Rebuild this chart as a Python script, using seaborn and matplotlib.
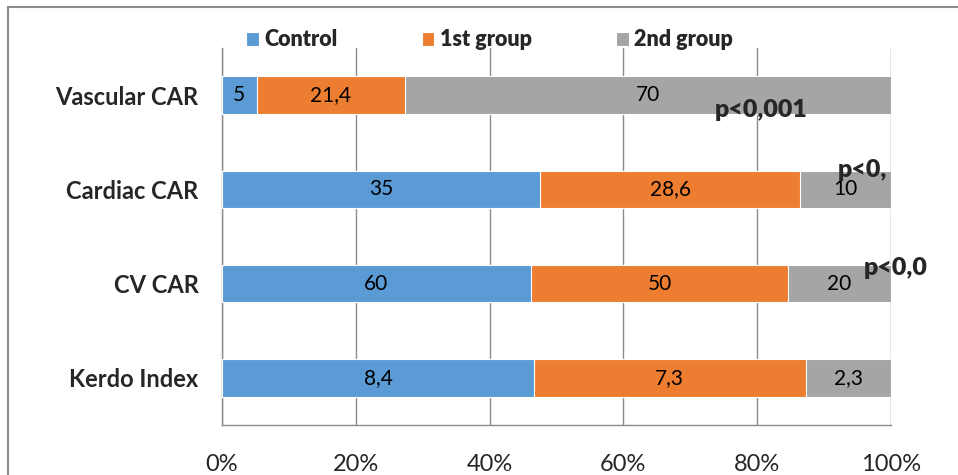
import numpy as np
import pandas as pd
import seaborn as sns
import matplotlib.pyplot as plt
from matplotlib.patches import Rectangle

categories = ['Vascular CAR', 'Cardiac CAR', 'CV CAR', 'Kerdo Index']
groups = ['Control', '1st group', '2nd group']
control = [5, 35, 60, 8.4]
group1 = [21.4, 28.6, 50, 7.3]
group2 = [70, 10, 20, 2.3]
p_labels = ['p<0,001', 'p<0,', 'p<0,0']
colors = ['#5B9BD5', '#ED7D31', '#A5A5A5']

sns.set_style('white')
plt.rcParams['font.family'] = ['Lato', 'DejaVu Sans']

vals = np.array([control, group1, group2])
pct = vals / vals.sum(axis=0) * 100
cum = np.cumsum(pct, axis=0)

fig = plt.figure(figsize=(9.58, 4.75), dpi=100)
ax = fig.add_axes([222 / 958, 1 - 425 / 475, (891 - 222) / 958, (425 - 48) / 475])

# outer frame
fig.patches.append(Rectangle((8 / 958, -0.1), 2, 1.1 - 7 / 475, transform=fig.transFigure,
                             fill=False, edgecolor='#8c8c8c', linewidth=1.5, zorder=0))

# stacked bars: draw cumulative totals from the back
for i in [2, 1, 0]:
    df = pd.DataFrame({'cat': categories, 'val': cum[i]})
    sns.barplot(data=df, y='cat', x='val', color=colors[i], orient='h', width=0.4, saturation=1,
                edgecolor='white', linewidth=0.8, ax=ax, label=groups[i], zorder=3)
if ax.get_legend() is not None:
    ax.get_legend().remove()

for j, cat in enumerate(categories):
    starts = np.concatenate([[0], cum[:-1, j]])
    for i in range(3):
        txt = ('%g' % vals[i, j]).replace('.', ',')
        ax.text(starts[i] + pct[i, j] / 2, j, txt, ha='center', va='center',
                fontsize=15, color='black', zorder=5)

# p-value notes
p_pos = [(715, 110), (838, 170), (864, 268)]
for lab, (px, py) in zip(p_labels, p_pos):
    fig.text(px / 958, 1 - py / 475, lab, ha='left', va='center',
             fontsize=18, fontweight='heavy', zorder=6)

ax.set_xlim(0, 100)
ax.set_ylim(3.5, -0.5)
ax.set_xticks(np.arange(0, 101, 20))
ax.set_xticklabels([f'{t}%' for t in range(0, 101, 20)], fontsize=17)
ax.set_yticks(range(4))
ax.set_yticklabels(categories, fontsize=17, fontweight='bold')
ax.set_yticks(np.arange(-0.5, 4, 1), minor=True)
ax.tick_params(axis='y', which='major', length=0, pad=17)
ax.tick_params(axis='y', which='minor', length=7, color='#8c8c8c', direction='out')
ax.tick_params(axis='x', length=9, color='#8c8c8c', direction='out', pad=12)
ax.set_xlabel('')
ax.set_ylabel('')
ax.xaxis.grid(True, color='#8c8c8c', linewidth=1)
ax.set_axisbelow(True)
for s in ['top', 'right']:
    ax.spines[s].set_visible(False)
for s in ['left', 'bottom']:
    ax.spines[s].set_color('#8c8c8c')
    ax.spines[s].set_linewidth(1)

handles, labels = ax.get_legend_handles_labels()
order = [labels.index(g) for g in groups]
fig.legend([handles[k] for k in order], groups, loc='center left',
           bbox_to_anchor=(246 / 958, 1 - 40 / 475), borderpad=0, borderaxespad=0,
           ncol=3, frameon=False, handlelength=0.6, handleheight=0.6, handletextpad=0.25,
           columnspacing=3.9, prop={'weight': 'heavy', 'size': 15.5})

fig.savefig('out.png', dpi=100)
